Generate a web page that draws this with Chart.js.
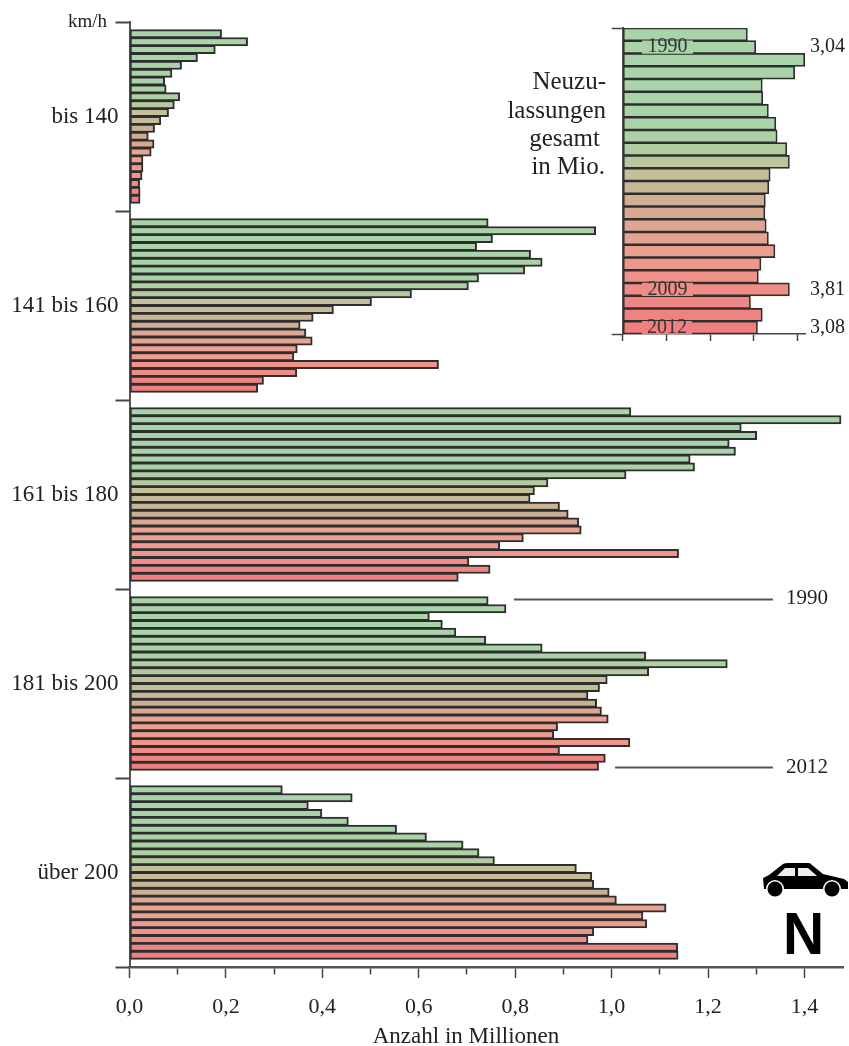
<!DOCTYPE html>
<html lang="de">
<head>
  <meta charset="UTF-8" />
  <title>Neuzulassungen nach Geschwindigkeit</title>
  <style>
    body { margin: 0; background: #fff; }
    #wrap { position: relative; width: 849px; height: 1046px; overflow: hidden; }
    canvas { position: absolute; filter: blur(0.5px); }
  </style>
</head>
<body>
  <div id="wrap">
    <canvas id="mainChart" width="849" height="1046" style="left:0;top:0"></canvas>
    <canvas id="insetChart" width="269" height="350" style="left:580px;top:0"></canvas>
  </div>

  <script src="https://cdn.jsdelivr.net/npm/chart.js"></script>
  <script>
// values in millions, top row to bottom row
const groupNames = ['bis 140', '141 bis 160', '161 bis 180', '181 bis 200', 'über 200'];
const bis140 = [.191, .245, .178, .141, .108, .088, .073, .076, .104, .093, .081, .065, .052, .039, .051, .045, .028, .028, .026, .021, .022, .022];
const bis160 = [.744, .967, .753, .720, .832, .856, .820, .724, .703, .585, .502, .423, .381, .354, .366, .379, .348, .341, .641, .347, .278, .266];
const bis180 = [1.040, 1.476, 1.269, 1.301, 1.244, 1.257, 1.163, 1.172, 1.030, .868, .840, .831, .892, .910, .932, .937, .817, .768, 1.139, .704, .748, .682];
const bis200 = [.744, .781, .622, .649, .677, .739, .856, 1.071, 1.240, 1.077, .991, .975, .951, .969, .979, .993, .888, .880, 1.038, .892, .987, .973];
const ueber200 = [.317, .462, .371, .399, .454, .554, .616, .692, .725, .757, .927, .959, .963, .995, 1.010, 1.113, 1.065, 1.073, .963, .951, 1.137, 1.138];

// total registrations in millions, 24 rows
const gesamtYears = [1989, 1990, 1991, 1992, 1993, 1994, 1995, 1996, 1997, 1998, 1999, 2000, 2001, 2002, 2003, 2004, 2005, 2006, 2007, 2008, 2009, 2010, 2011, 2012];
const gesamt = [2.85, 3.04, 4.16, 3.93, 3.19, 3.20, 3.33, 3.50, 3.53, 3.75, 3.81, 3.37, 3.34, 3.26, 3.25, 3.28, 3.33, 3.48, 3.16, 3.10, 3.81, 2.92, 3.19, 3.08];

const rowColors = ['#a9d3a9', '#a9d3a9', '#a9d3a9', '#a9d3a9', '#a9d3a9', '#a9d3a9', '#a9d3a9', '#aad2a8', '#add0a5', '#b4cb9f', '#c3c09a', '#c6bb98', '#c9b596', '#ccae94', '#dca692', '#e9a491', '#ee9f91', '#ee9a8f', '#f0958c', '#f08c86', '#f08482', '#f08080'];
const insetColors = ['#a9d3a9', '#a9d3a9', '#a9d3a9', '#a9d3a9', '#a9d3a9', '#a9d3a9', '#a9d3a9', '#a9d3a9', '#acd1a6', '#b0cea2', '#bcc69c', '#c5bf9a', '#c9b796', '#d0af94', '#d6a992', '#dda692', '#e5a391', '#eb9e8f', '#ee988d', '#ef918a', '#f08c86', '#f08684', '#f08282', '#f08080'];

const SERIF = '"Liberation Serif", serif';
const INK = '#2e2e2e';

// every group takes 24 cells: one empty, 22 rows, one empty
const groups = [bis140, bis160, bis180, bis200, ueber200];
const cellLabels = [], cellValues = [], cellColors = [];
groups.forEach((g, gi) => {
  cellLabels.push(groupNames[gi] + ' -'); cellValues.push(null); cellColors.push('#fff');
  g.forEach((v, i) => {
    cellLabels.push(groupNames[gi] + ' ' + i);
    cellValues.push(v);
    cellColors.push(rowColors[i]);
  });
  cellLabels.push(groupNames[gi] + ' +'); cellValues.push(null); cellColors.push('#fff');
});

function drawCar(c) {
  c.save();
  c.fillStyle = '#000';
  c.beginPath();
  c.moveTo(764, 889); c.lineTo(763, 878);
  c.lineTo(769, 875); c.lineTo(783, 864);
  c.quadraticCurveTo(785, 863, 788, 863);
  c.lineTo(808, 863);
  c.quadraticCurveTo(811, 863, 812, 865);
  c.lineTo(823, 874);
  c.lineTo(844, 879); c.lineTo(848, 882); c.lineTo(848, 889);
  c.closePath();
  c.fill();
  c.fillStyle = '#eee';
  c.beginPath(); c.moveTo(777, 876); c.lineTo(785, 868); c.lineTo(795, 868); c.lineTo(795, 876); c.closePath(); c.fill();
  c.beginPath(); c.moveTo(798, 868); c.lineTo(808, 868); c.lineTo(817, 876); c.lineTo(798, 876); c.closePath(); c.fill();
  [775, 832].forEach(x => {
    c.fillStyle = '#fff';
    c.beginPath(); c.arc(x, 889, 9, 0, Math.PI * 2); c.fill();
    c.fillStyle = '#000';
    c.beginPath(); c.arc(x, 889, 7.5, 0, Math.PI * 2); c.fill();
  });
  c.restore();
}

const mainNotes = {
  id: 'mainNotes',
  afterDraw(chart) {
    const c = chart.ctx;
    c.save();
    c.fillStyle = '#222';
    c.textBaseline = 'middle';
    c.font = '19px ' + SERIF;
    c.textAlign = 'right';
    c.fillText('km/h', 107, 22);

    c.font = '25px ' + SERIF;
    c.fillText('Neuzu-', 606, 82);
    c.fillText('lassungen', 606, 111);
    c.fillText('gesamt', 600, 139);
    c.fillText('in Mio.', 605, 167);

    c.font = '21px ' + SERIF;
    c.textAlign = 'left';
    c.fillText('1990', 786, 598);
    c.fillText('2012', 786, 767);

    c.font = '23px ' + SERIF;
    c.textAlign = 'center';
    c.fillText('Anzahl in Millionen', 466, 1037);

    c.strokeStyle = '#555';
    c.lineWidth = 2;
    c.beginPath();
    c.moveTo(514, 599.5); c.lineTo(773, 599.5);
    c.moveTo(615, 767.5); c.lineTo(773, 767.5);
    c.stroke();

    c.fillStyle = '#000';
    c.font = 'bold 60px "Liberation Sans", sans-serif';
    c.translate(803.7, 937);
    c.scale(0.95, 1);
    c.fillText('N', 0, 0);
    c.restore();
    drawCar(c);
  }
};

new Chart(document.getElementById('mainChart'), {
  type: 'bar',
  data: {
    labels: cellLabels,
    datasets: [{
      data: cellValues,
      backgroundColor: cellColors,
      borderColor: INK,
      borderWidth: 2,
      borderSkipped: false,
      barThickness: 8.4,
      yAxisID: 'y'
    }]
  },
  options: {
    indexAxis: 'y',
    responsive: false,
    animation: false,
    layout: { padding: { top: 22, right: 6, left: 0, bottom: 0 } },
    plugins: { legend: { display: false }, tooltip: { enabled: false } },
    scales: {
      x: {
        min: 0,
        max: 1.48,
        grid: {
          drawOnChartArea: false,
          tickLength: 11,
          tickColor: '#444',
          tickWidth: 1.5,
          tickBorderDash: ctx => (Math.round(ctx.tick.value * 10) % 2 ? [6, 100] : [])
        },
        border: { color: '#555', width: 2.5 },
        ticks: {
          stepSize: 0.1,
          includeBounds: false,
          autoSkip: false,
          maxRotation: 0,
          padding: 16,
          color: '#222',
          font: { family: SERIF, size: 22 },
          callback: v => (Math.round(v * 10) % 2 ? '' : v.toFixed(1).replace('.', ','))
        },
        afterFit: s => { s.height = 79; }
      },
      y: { display: false, offset: true },
      yGroups: {
        type: 'category',
        labels: groupNames,
        position: 'left',
        offset: true,
        grid: { offset: true, drawOnChartArea: false, tickLength: 14, tickColor: '#444', tickWidth: 2 },
        border: { color: '#555', width: 2 },
        ticks: {
          padding: -3,
          color: '#222',
          autoSkip: false,
          font: { family: SERIF, size: 23 }
        },
        afterFit: s => { s.width = 129.5; }
      }
    }
  },
  plugins: [mainNotes]
});

const INSET_LEFT = 580;
const insetNotes = {
  id: 'insetNotes',
  afterDraw(chart) {
    const c = chart.ctx;
    const ys = chart.scales.y;
    c.save();
    c.textBaseline = 'middle';
    c.textAlign = 'center';
    c.font = '20px ' + SERIF;
    [[1990, 642, 693], [2009, 642, 693], [2012, 642, 692]].forEach(([year, a, b]) => {
      const i = gesamtYears.indexOf(year);
      const y = ys.getPixelForValue(i);
      c.fillStyle = insetColors[i];
      c.fillRect(a - INSET_LEFT, y - 6.6, b - a, 13.2);
      c.fillStyle = '#333';
      c.fillText(String(year), (a + b) / 2 - INSET_LEFT, y);
    });
    c.font = '20px ' + SERIF;
    c.textAlign = 'left';
    c.fillStyle = '#222';
    c.fillText('3,04', 810 - INSET_LEFT, 47);
    c.fillText('3,81', 810 - INSET_LEFT, 290);
    c.fillText('3,08', 810 - INSET_LEFT, 328);
    c.restore();
  }
};

new Chart(document.getElementById('insetChart'), {
  type: 'bar',
  data: {
    labels: gesamtYears.map(String),
    datasets: [{
      data: gesamt,
      backgroundColor: insetColors,
      borderColor: INK,
      borderWidth: 1.7,
      borderSkipped: false,
      barThickness: 13,
      yAxisID: 'y'
    }]
  },
  options: {
    indexAxis: 'y',
    responsive: false,
    animation: false,
    layout: { padding: { top: 28, right: 43.4, left: 0, bottom: 0 } },
    plugins: { legend: { display: false }, tooltip: { enabled: false } },
    scales: {
      x: {
        min: 0,
        max: 4.18,
        grid: { drawOnChartArea: false, tickLength: 7, tickColor: '#444', tickWidth: 1.5 },
        border: { color: '#444', width: 1.5 },
        ticks: { stepSize: 1, includeBounds: false, callback: () => '' },
        afterFit: s => { s.height = 16; }
      },
      y: { display: false, offset: true },
      yEnds: {
        type: 'category',
        labels: [''],
        position: 'left',
        offset: true,
        grid: { offset: true, drawOnChartArea: false, tickLength: 11, tickColor: '#444', tickWidth: 1.5 },
        border: { color: '#555', width: 2 },
        ticks: { callback: () => '' },
        afterFit: s => { s.width = 42.7; }
      }
    }
  },
  plugins: [insetNotes]
});
  </script>
</body>
</html>
